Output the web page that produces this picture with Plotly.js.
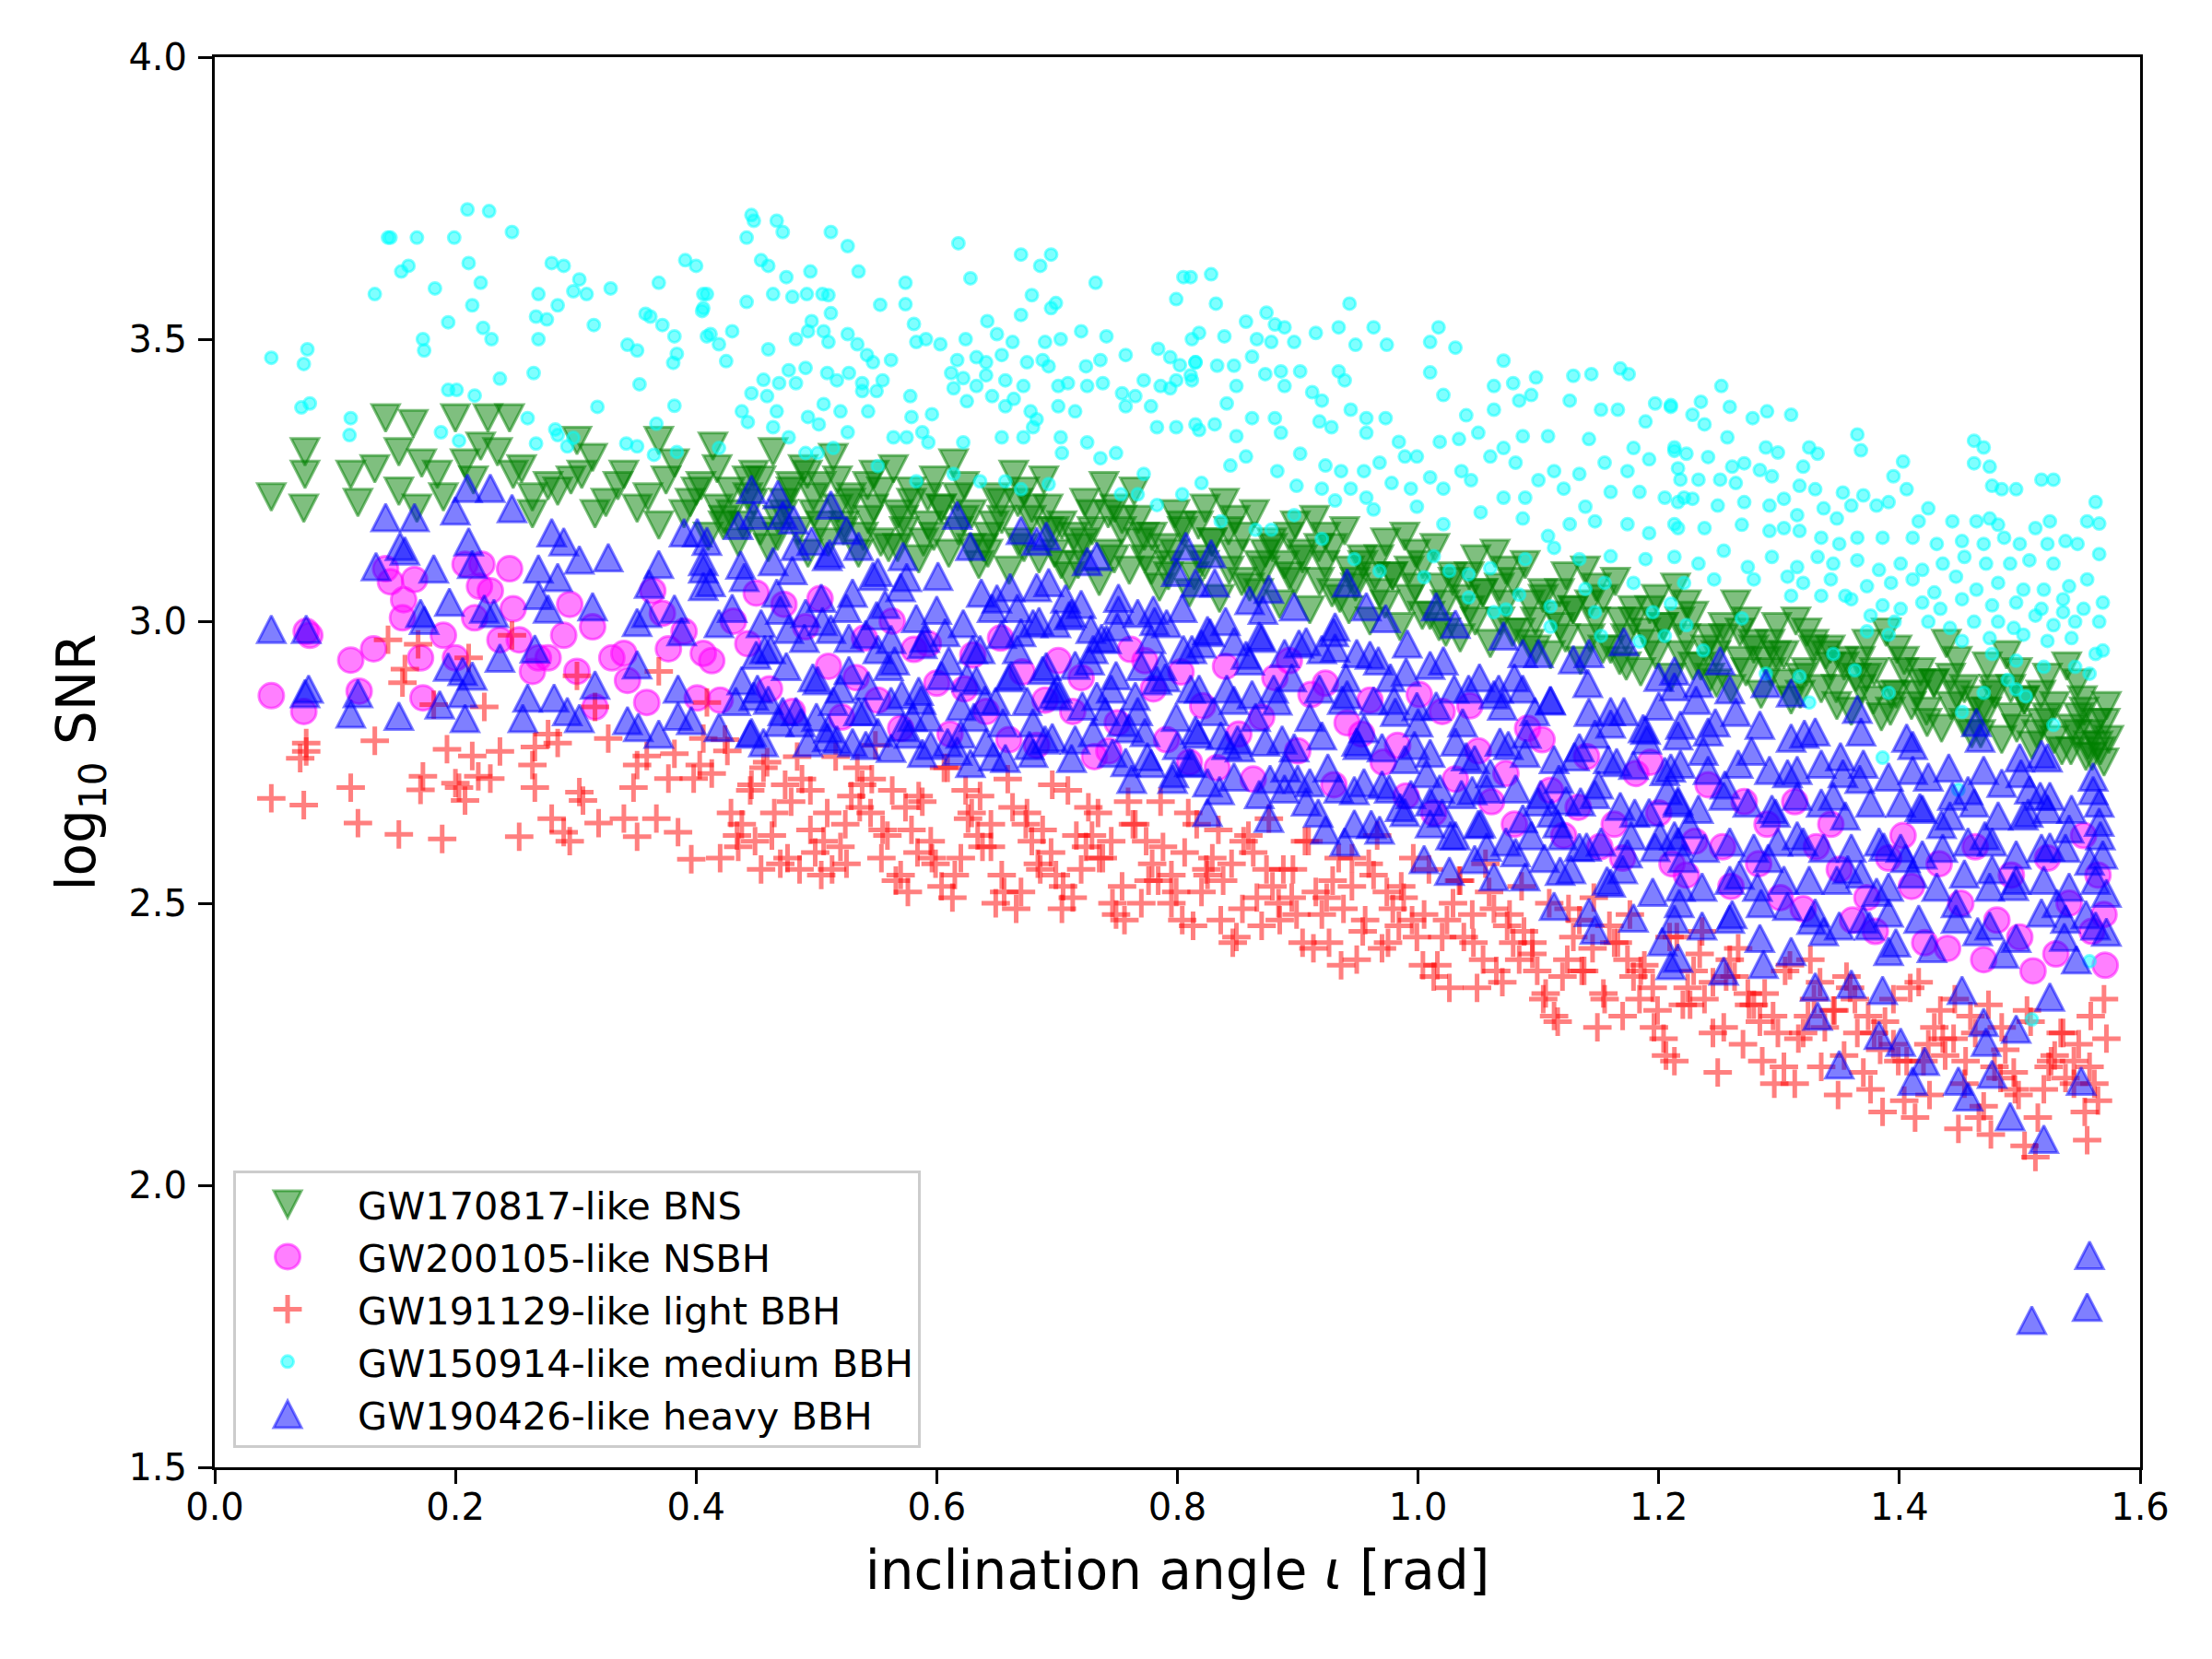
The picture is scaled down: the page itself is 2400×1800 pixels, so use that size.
<!DOCTYPE html>
<html><head><meta charset="utf-8">
<script src="https://cdn.plot.ly/plotly-3.0.1.min.js"></script>
<style>html,body{margin:0;padding:0;background:#fff;} #chart{width:2400px;height:1800px;}</style>
</head><body><div id="chart"></div>
<script>
// ---------------- data ----------------
const seriesNames = ['GW170817-like BNS','GW200105-like NSBH','GW191129-like light BBH','GW150914-like medium BBH','GW190426-like heavy BBH'];
const xTickValues = [0,0.2,0.4,0.6,0.8,1.0,1.2,1.4,1.6];
const xTickLabels = ['0.0','0.2','0.4','0.6','0.8','1.0','1.2','1.4','1.6'];
const yTickValues = [1.5,2.0,2.5,3.0,3.5,4.0];
const yTickLabels = ['1.5','2.0','2.5','3.0','3.5','4.0'];

// GW170817-like BNS
const bnsX = [
0.047,0.075,0.075,0.074,0.113,0.119,0.133,0.142,0.153,0.165,0.153,0.168,0.172,0.185,0.200,0.208,0.221,0.227,0.245,0.248,0.264,0.264,0.277,0.296,0.301,0.314,0.316,0.340,0.351,0.369,0.369,0.382,0.400,0.190,0.215,0.235,0.255,0.285,0.305,0.325,0.335,0.360,0.375,0.390,0.395,
0.410,0.418,0.404,0.423,0.414, 0.435,0.443,0.429,0.448,0.439, 0.460,0.468,0.454,0.473,0.464, 0.485,0.493,0.479,0.498,0.489,
0.510,0.518,0.504,0.523,0.514, 0.535,0.543,0.529,0.548,0.539, 0.560,0.568,0.554,0.573,0.564, 0.585,0.593,0.579,0.598,0.589,
0.610,0.618,0.604,0.623,0.614, 0.635,0.643,0.629,0.648,0.639, 0.660,0.668,0.654,0.673,0.664, 0.685,0.693,0.679,0.698,0.689,
0.710,0.718,0.704,0.723,0.714, 0.735,0.743,0.729,0.748,0.739, 0.760,0.768,0.754,0.773,0.764, 0.785,0.793,0.779,0.798,0.789,
0.810,0.818,0.804,0.823,0.814, 0.835,0.843,0.829,0.848,0.839, 0.860,0.868,0.854,0.873,0.864, 0.885,0.893,0.879,0.898,0.889,
0.910,0.918,0.904,0.923,0.914, 0.935,0.943,0.929,0.948,0.939, 0.960,0.968,0.954,0.973,0.964, 0.985,0.993,0.979,0.998,0.989,
1.010,1.018,1.004,1.023,1.014, 1.035,1.043,1.029,1.048,1.039, 1.060,1.068,1.054,1.073,1.064, 1.085,1.093,1.079,1.098,1.089,
1.110,1.118,1.104,1.123,1.114, 1.135,1.143,1.129,1.148,1.139, 1.160,1.168,1.154,1.173,1.164, 1.185,1.193,1.179,1.198,1.189,
1.210,1.218,1.204,1.223,1.214, 1.235,1.243,1.229,1.248,1.239, 1.260,1.268,1.254,1.273,1.264, 1.285,1.293,1.279,1.298,1.289,
1.310,1.318,1.304,1.323,1.314, 1.335,1.343,1.329,1.348,1.339, 1.360,1.368,1.354,1.373,1.364, 1.385,1.393,1.379,1.398,1.389,
1.410,1.418,1.404,1.423,1.414, 1.435,1.443,1.429,1.448,1.439, 1.460,1.468,1.454,1.473,1.464, 1.485,1.493,1.479,1.498,1.489,
1.510,1.518,1.504,1.523,1.514, 1.535,1.543,1.529,1.548,1.539, 1.555,1.559,1.549,1.557,1.552, 1.570,1.574,1.564,1.572,1.567,
0.4225,0.4285,0.4175, 0.4475,0.4535,0.4425, 0.4725,0.4785,0.4675, 0.4975,0.5035,0.4925, 0.5225,0.5285,0.5175, 0.5475,0.5535,0.5425,
0.5725,0.5785,0.5675, 0.5975,0.6035,0.5925, 0.6225,0.6285,0.6175, 0.6475,0.6535,0.6425, 0.6725,0.6785,0.6675, 0.6975,0.7035,0.6925,
0.7225,0.7285,0.7175, 0.7475,0.7535,0.7425, 0.7725,0.7785,0.7675, 0.7975,0.8035,0.7925, 0.8225,0.8285,0.8175, 0.8475,0.8535,0.8425,
0.8725,0.8785,0.8675, 0.8975,0.9035,0.8925, 0.9225,0.9285,0.9175, 0.9475,0.9535,0.9425, 0.9725,0.9785,0.9675, 0.9975,1.0035,0.9925,
1.0225,1.0285,1.0175, 1.0475,1.0535,1.0425, 1.0725,1.0785,1.0675, 1.0975,1.1035,1.0925, 1.1225,1.1285,1.1175, 1.1475,1.1535,1.1425,
1.1725,1.1785,1.1675, 1.1975,1.2035,1.1925, 1.2225,1.2285,1.2175, 1.2475,1.2535,1.2425, 1.2725,1.2785,1.2675, 1.2975,1.3035,1.2925,
1.3225,1.3285,1.3175, 1.3475,1.3535,1.3425, 1.3725,1.3785,1.3675, 1.3975,1.4035,1.3925, 1.4225,1.4285,1.4175, 1.4475,1.4535,1.4425,
1.4725,1.4785,1.4675, 1.4975,1.5035,1.4925, 1.5225,1.5285,1.5175, 1.5475,1.5535,1.5425, 1.5650,1.5710,1.5600
];
const bnsY = [
3.22,3.30,3.26,3.20,3.26,3.21,3.27,3.36,3.30,3.35,3.23,3.20,3.28,3.26,3.36,3.28,3.31,3.36,3.36,3.26,3.22,3.19,3.24,3.25,3.32,3.29,3.19,3.26,3.20,3.32,3.17,3.28,3.23,3.22,3.25,3.30,3.27,3.23,3.26,3.21,3.24,3.22,3.25,3.19,3.21,
3.15,3.20,3.24,3.18,3.31, 3.14,3.22,3.19,3.26,3.17, 3.13,3.18,3.25,3.21,3.30, 3.16,3.12,3.23,3.19,3.27,
3.14,3.20,3.24,3.17,3.29, 3.12,3.18,3.22,3.26,3.15, 3.13,3.19,3.23,3.16,3.27, 3.11,3.17,3.21,3.25,3.14,
3.12,3.16,3.20,3.24,3.28, 3.10,3.15,3.19,3.22,3.13, 3.09,3.14,3.18,3.23,3.26, 3.11,3.16,3.20,3.12,3.25,
3.08,3.13,3.17,3.21,3.15, 3.07,3.12,3.16,3.20,3.24, 3.09,3.14,3.18,3.11,3.23, 3.06,3.10,3.15,3.19,3.13,
3.05,3.11,3.16,3.20,3.08, 3.04,3.09,3.14,3.18,3.21, 3.06,3.10,3.15,3.12,3.19, 3.03,3.08,3.13,3.17,3.10,
3.02,3.07,3.11,3.15,3.18, 3.04,3.09,3.13,3.06,3.16, 3.00,3.05,3.10,3.14,3.08, 2.99,3.04,3.08,3.12,3.15,
3.01,3.06,3.10,2.98,3.13, 2.97,3.02,3.07,3.11,3.04, 2.96,3.00,3.05,3.09,3.12, 2.98,3.03,3.07,2.95,3.10,
2.94,2.99,3.04,3.08,3.01, 2.93,2.97,3.02,3.06,3.09, 2.95,3.00,3.04,2.92,3.07, 2.91,2.96,3.00,3.04,2.98,
2.90,2.94,2.99,3.03,3.06, 2.92,2.97,3.01,2.89,2.95, 2.88,2.93,2.97,3.00,3.03, 2.87,2.91,2.95,2.99,2.93,
2.86,2.90,2.94,2.98,3.00, 2.88,2.92,2.96,2.85,2.94, 2.84,2.88,2.92,2.96,2.90, 2.83,2.87,2.91,2.95,2.98,
2.85,2.89,2.93,2.82,2.87, 2.81,2.85,2.89,2.93,2.96, 2.80,2.84,2.88,2.92,2.86, 2.79,2.83,2.87,2.91,2.94,
2.78,2.82,2.86,2.90,2.80, 2.77,2.81,2.85,2.89,2.92, 2.76,2.80,2.83,2.78,2.86, 2.75,2.79,2.82,2.85,2.77,
3.17,3.23,3.27, 3.21,3.16,3.25, 3.19,3.24,3.15, 3.22,3.17,3.26, 3.16,3.21,3.25, 3.20,3.14,3.24,
3.18,3.23,3.13, 3.15,3.20,3.22, 3.18,3.13,3.22, 3.17,3.21,3.12, 3.13,3.18,3.21, 3.16,3.10,3.20,
3.14,3.19,3.10, 3.11,3.16,3.19, 3.15,3.09,3.18, 3.12,3.17,3.08, 3.10,3.14,3.17, 3.12,3.07,3.16,
3.09,3.14,3.05, 3.07,3.12,3.15, 3.10,3.05,3.13, 3.07,3.11,3.02, 3.03,3.08,3.11, 3.06,3.01,3.09,
3.03,3.08,2.99, 3.00,3.05,3.08, 3.03,2.98,3.06, 3.00,3.05,2.96, 2.97,3.02,3.05, 3.00,2.95,3.03,
2.97,3.02,2.93, 2.94,2.99,3.02, 2.97,2.92,3.00, 2.94,2.99,2.90, 2.91,2.96,2.98, 2.94,2.89,2.96,
2.91,2.95,2.87, 2.88,2.93,2.95, 2.90,2.86,2.93, 2.87,2.91,2.84, 2.84,2.89,2.91, 2.87,2.82,2.90,
2.84,2.88,2.80, 2.81,2.86,2.88, 2.83,2.79,2.87, 2.80,2.84,2.77, 2.78,2.82,2.76
];

// GW200105-like NSBH
const nsbhX = [
0.047,0.074,0.076,0.079,0.113,0.120,0.132,0.142,0.146,0.166,0.157,0.156,0.171,0.173,0.190,0.200,0.208,0.222,0.245,0.220,0.229,0.216,0.248,0.237,0.253,0.269,0.264,0.277,0.290,0.295,0.314,0.301,0.316,0.330,0.340,0.343,0.364,0.372,0.377,0.390,0.406,0.401,0.359,
0.420,0.431,0.413, 0.450,0.461,0.443, 0.480,0.491,0.473, 0.510,0.521,0.503, 0.540,0.551,0.533, 0.570,0.581,0.563,
0.600,0.611,0.593, 0.630,0.641,0.623, 0.660,0.671,0.653, 0.690,0.701,0.683, 0.720,0.731,0.713, 0.750,0.761,0.743,
0.780,0.791,0.773, 0.810,0.821,0.803, 0.840,0.851,0.833, 0.870,0.881,0.863, 0.900,0.911,0.893, 0.930,0.941,0.923,
0.960,0.971,0.953, 0.990,1.001,0.983, 1.020,1.031,1.013, 1.050,1.061,1.043, 1.080,1.091,1.073, 1.110,1.121,1.103,
1.140,1.151,1.133, 1.170,1.181,1.163, 1.200,1.211,1.193, 1.230,1.241,1.223, 1.260,1.271,1.253, 1.290,1.301,1.283,
1.320,1.331,1.313, 1.350,1.361,1.343, 1.380,1.391,1.373, 1.410,1.421,1.403, 1.440,1.451,1.433, 1.470,1.481,1.463,
1.500,1.511,1.493, 1.530,1.541,1.523, 1.560,1.571,1.553, 1.565,1.570
];
const nsbhY = [
2.868,2.84,2.982,2.975,2.931,2.876,2.951,3.093,3.07,3.074,3.038,3.006,2.935,2.864,2.975,2.935,3.101,3.101,3.093,3.062,3.054,3.006,3.022,2.967,2.967,2.935,2.911,2.935,2.975,3.03,2.99,2.911,2.848,2.935,2.943,2.895,3.054,3.014,2.951,2.982,2.943,2.864,2.856,
2.86,3.00,2.93, 3.05,2.88,2.96, 2.84,2.99,3.03, 2.92,2.83,3.04, 2.97,2.86,2.90, 2.81,2.95,3.00,
2.89,2.80,2.96, 2.94,2.84,2.88, 2.79,2.91,2.97, 2.86,2.93,2.78, 2.90,2.76,2.84, 2.82,2.95,2.77,
2.88,2.79,2.93, 2.75,2.85,2.91, 2.92,2.80,2.74, 2.83,2.90,2.72, 2.77,2.87,2.93, 2.71,2.82,2.89,
2.86,2.75,2.80, 2.69,2.87,2.78, 2.84,2.72,2.66, 2.77,2.68,2.85, 2.64,2.81,2.73, 2.70,2.62,2.79,
2.76,2.60,2.67, 2.58,2.73,2.64, 2.66,2.57,2.75, 2.61,2.71,2.55, 2.53,2.68,2.60, 2.64,2.51,2.57,
2.49,2.60,2.68, 2.56,2.47,2.64, 2.45,2.58,2.51, 2.53,2.43,2.62, 2.42,2.50,2.57, 2.40,2.47,2.60,
2.44,2.38,2.55, 2.41,2.50,2.58, 2.45,2.39,2.62, 2.55,2.48
];

// GW191129-like light BBH
const lightX = [
0.047,0.074,0.076,0.071,0.076,0.113,0.119,0.133,0.144,0.153,0.158,0.156,0.169,0.173,0.171,0.182,0.189,0.193,0.200,0.203,0.208,0.211,0.214,0.219,0.224,0.229,0.237,0.247,0.253,0.264,0.266,0.266,0.277,0.280,0.285,0.290,0.295,0.301,0.303,0.306,0.316,0.319,0.327,0.340,0.348,0.351,0.351,0.359,0.367,0.369,0.377,0.382,0.385,0.396,0.398,0.406,0.403,0.409,
0.420,0.429,0.413,0.434,0.424, 0.445,0.454,0.438,0.459,0.449, 0.470,0.479,0.463,0.484,0.474, 0.495,0.504,0.488,0.509,0.499,
0.520,0.529,0.513,0.534,0.524, 0.545,0.554,0.538,0.559,0.549, 0.570,0.579,0.563,0.584,0.574, 0.595,0.604,0.588,0.609,0.599,
0.620,0.629,0.613,0.634,0.624, 0.645,0.654,0.638,0.659,0.649, 0.670,0.679,0.663,0.684,0.674, 0.695,0.704,0.688,0.709,0.699,
0.720,0.729,0.713,0.734,0.724, 0.745,0.754,0.738,0.759,0.749, 0.770,0.779,0.763,0.784,0.774, 0.795,0.804,0.788,0.809,0.799,
0.820,0.829,0.813,0.834,0.824, 0.845,0.854,0.838,0.859,0.849, 0.870,0.879,0.863,0.884,0.874, 0.895,0.904,0.888,0.909,0.899,
0.920,0.929,0.913,0.934,0.924, 0.945,0.954,0.938,0.959,0.949, 0.970,0.979,0.963,0.984,0.974, 0.995,1.004,0.988,1.009,0.999,
1.020,1.029,1.013,1.034,1.024, 1.045,1.054,1.038,1.059,1.049, 1.070,1.079,1.063,1.084,1.074, 1.095,1.104,1.088,1.109,1.099,
1.120,1.129,1.113,1.134,1.124, 1.145,1.154,1.138,1.159,1.149, 1.170,1.179,1.163,1.184,1.174, 1.195,1.204,1.188,1.209,1.199,
1.220,1.229,1.213,1.234,1.224, 1.245,1.254,1.238,1.259,1.249, 1.270,1.279,1.263,1.284,1.274, 1.295,1.304,1.288,1.309,1.299,
1.320,1.329,1.313,1.334,1.324, 1.345,1.354,1.338,1.359,1.349, 1.370,1.379,1.363,1.384,1.374, 1.395,1.404,1.388,1.409,1.399,
1.420,1.429,1.413,1.434,1.424, 1.445,1.454,1.438,1.459,1.449, 1.470,1.479,1.463,1.484,1.474, 1.495,1.504,1.488,1.509,1.499,
1.520,1.529,1.513,1.534,1.524, 1.545,1.554,1.538,1.559,1.549, 1.565,1.572,1.558,1.570,1.562,
0.435,0.446,0.426, 0.465,0.476,0.456, 0.495,0.506,0.486, 0.525,0.536,0.516, 0.555,0.566,0.546, 0.585,0.596,0.576,
0.615,0.626,0.606, 0.645,0.656,0.636, 0.675,0.686,0.666, 0.705,0.716,0.696, 0.735,0.746,0.726, 0.765,0.776,0.756,
0.795,0.806,0.786, 0.825,0.836,0.816, 0.855,0.866,0.846, 0.885,0.896,0.876, 0.915,0.926,0.906, 0.945,0.956,0.936,
0.975,0.986,0.966, 1.005,1.016,0.996, 1.035,1.046,1.026, 1.065,1.076,1.056, 1.095,1.106,1.086, 1.125,1.136,1.116,
1.155,1.166,1.146, 1.185,1.196,1.176, 1.215,1.226,1.206, 1.245,1.256,1.236, 1.275,1.286,1.266, 1.305,1.316,1.296,
1.335,1.346,1.326, 1.365,1.376,1.356, 1.395,1.406,1.386, 1.425,1.436,1.416, 1.455,1.466,1.446, 1.485,1.496,1.476,
1.515,1.526,1.506, 1.545,1.556,1.536
];
const lightY = [
2.686,2.674,2.784,2.757,2.769,2.705,2.642,2.788,2.967,2.622,2.915,2.891,2.959,2.725,2.701,2.852,2.614,2.773,2.713,2.705,2.682,2.935,2.761,2.725,2.848,2.721,2.769,2.975,2.618,2.745,2.705,2.777,2.80,2.65,2.784,2.626,2.61,2.903,2.697,2.682,2.848,2.642,2.792,2.65,2.705,2.745,2.618,2.761,2.65,2.911,2.721,2.765,2.626,2.578,2.721,2.792,2.745,2.856,
2.58,2.66,2.73,2.62,2.79, 2.70,2.56,2.64,2.75,2.61, 2.57,2.68,2.62,2.76,2.71, 2.63,2.55,2.72,2.66,2.59,
2.60,2.69,2.56,2.74,2.64, 2.66,2.58,2.71,2.62,2.78, 2.55,2.63,2.70,2.59,2.67, 2.61,2.53,2.68,2.74,2.57,
2.58,2.66,2.51,2.62,2.70, 2.64,2.55,2.60,2.72,2.50, 2.52,2.61,2.67,2.57,2.64, 2.59,2.49,2.63,2.70,2.55,
2.56,2.62,2.51,2.66,2.60, 2.61,2.53,2.58,2.68,2.48, 2.50,2.57,2.64,2.54,2.61, 2.55,2.47,2.60,2.66,2.52,
2.52,2.58,2.46,2.63,2.56, 2.57,2.49,2.54,2.62,2.44, 2.46,2.53,2.59,2.50,2.56, 2.51,2.43,2.56,2.61,2.48,
2.48,2.54,2.42,2.58,2.51, 2.53,2.45,2.49,2.57,2.40, 2.42,2.49,2.55,2.46,2.52, 2.47,2.39,2.51,2.56,2.44,
2.44,2.50,2.37,2.54,2.47, 2.48,2.40,2.44,2.52,2.35, 2.36,2.43,2.49,2.40,2.46, 2.41,2.33,2.45,2.50,2.38,
2.37,2.44,2.30,2.47,2.40, 2.42,2.34,2.38,2.46,2.28, 2.30,2.37,2.43,2.33,2.40, 2.35,2.26,2.39,2.44,2.31,
2.32,2.38,2.22,2.41,2.35, 2.36,2.28,2.33,2.40,2.20, 2.25,2.32,2.37,2.29,2.34, 2.30,2.21,2.34,2.39,2.27,
2.27,2.33,2.18,2.36,2.30, 2.31,2.23,2.28,2.35,2.16, 2.20,2.27,2.33,2.24,2.30, 2.25,2.15,2.29,2.35,2.22,
2.22,2.28,2.12,2.31,2.25, 2.26,2.18,2.23,2.30,2.10, 2.14,2.21,2.27,2.19,2.32, 2.20,2.07,2.24,2.29,2.16,
2.17,2.23,2.05,2.27,2.21, 2.22,2.13,2.19,2.30,2.25, 2.15,2.26,2.21,2.33,2.18,
2.60,2.71,2.77, 2.66,2.58,2.74, 2.70,2.61,2.56, 2.57,2.67,2.76, 2.63,2.54,2.72, 2.69,2.58,2.52,
2.55,2.65,2.74, 2.60,2.52,2.69, 2.66,2.56,2.49, 2.53,2.62,2.71, 2.58,2.50,2.67, 2.64,2.54,2.47,
2.50,2.59,2.68, 2.55,2.47,2.64, 2.61,2.51,2.43, 2.47,2.56,2.65, 2.52,2.43,2.61, 2.58,2.47,2.39,
2.43,2.53,2.62, 2.48,2.39,2.58, 2.54,2.43,2.35, 2.38,2.48,2.57, 2.43,2.34,2.53, 2.49,2.38,2.29,
2.33,2.43,2.51, 2.38,2.28,2.48, 2.44,2.32,2.23, 2.27,2.37,2.45, 2.32,2.22,2.42, 2.38,2.26,2.18,
2.21,2.31,2.40, 2.27,2.17,2.37, 2.33,2.22,2.13, 2.16,2.26,2.36, 2.22,2.12,2.33, 2.28,2.17,2.09,
2.12,2.22,2.31, 2.18,2.08,2.27
];

// GW150914-like medium BBH
const mediumX = [
0.047,0.077,0.074,0.072,0.079,0.113,0.112,0.133,0.144,0.146,0.155,0.161,0.168,0.173,0.174,0.183,0.194,0.194,0.201,0.199,0.210,0.211,0.214,0.216,0.221,0.223,0.230,0.228,0.237,0.247,0.260,0.265,0.267,0.276,0.269,0.269,0.280,0.290,0.283,0.285,0.285,0.298,0.309,0.303,0.293,0.298,0.315,0.318,0.329,0.343,0.351,0.342,0.351,0.353,0.358,0.362,0.369,0.372,0.382,0.384,0.381,0.382,0.367,0.391,0.400,0.406,0.405,0.409,0.267,0.188,0.203,0.365,0.384,
0.446,0.448,0.442,0.467,0.472,0.512,0.526,0.618,0.670,0.686,0.695,0.732,0.805,0.628,0.535,0.454,0.460,0.495,0.475,0.464,
0.480,0.492,0.505,0.510,0.442,0.409,0.406,0.553,0.574,0.574,0.679,0.699,0.695,0.670,0.799,0.512,0.496,0.493,0.506,0.430,
0.412,0.419,0.425,0.460,0.483,0.510,0.526,0.534,0.542,0.547,0.562,0.581,0.583,0.591,0.603,0.624,0.642,0.650,0.663,0.690,
0.703,0.720,0.741,0.757,0.784,0.812,0.794,0.802,0.815,0.617,0.633,0.641,0.654,0.675,0.688,0.693,0.724,0.736,0.612,0.622,
0.633,0.641,0.657,0.672,0.701,0.709,0.725,0.738,0.754,0.772,0.786,0.799,0.811,0.477,0.491,0.509,0.517,0.527,0.538,0.555,
0.446,0.456,0.469,0.483,0.438,0.443,0.459,0.467,0.493,0.502,0.506,0.520,0.538,0.543,0.550,0.578,0.579,0.596,0.614,0.625,
0.646,0.657,0.664,0.678,0.683,0.701,0.715,0.757,0.765,0.778,0.794,0.783,0.799,0.815,0.772,0.749,0.736,0.725,0.703,0.704,
0.680,0.672,0.654,0.622,0.593,0.588,0.575,0.564,0.526,0.514,0.501,0.491,0.477,0.464,0.419,0.753,0.767,0.783,0.804,0.693,
0.670,0.657,0.636,0.614,0.583,0.551,
0.828,0.832,0.943,0.811,0.857,0.874,0.881,0.889,0.818,0.839,0.866,0.878,0.897,0.915,0.934,0.963,0.948,0.974,1.017,1.010,
1.031,0.815,0.833,0.847,0.862,0.873,0.886,0.902,0.812,0.849,0.889,0.934,0.939,1.071,1.010,1.063,1.079,1.098,1.129,1.144,
1.168,1.175,0.841,0.862,0.881,0.912,0.920,0.918,0.944,0.957,0.973,1.021,1.040,1.063,1.084,1.094,1.126,1.152,1.166,1.189,
1.197,1.210,0.818,0.831,0.849,0.886,0.928,0.957,0.984,0.999,1.018,1.034,1.050,1.071,1.087,1.108,1.142,1.179,1.213,0.844,
0.857,0.883,0.902,0.923,0.936,0.955,0.968,0.989,1.010,1.036,1.060,1.081,1.100,1.113,1.134,1.155,1.174,1.192,1.216,0.820,
0.899,0.920,0.944,0.957,0.978,0.994,1.021,1.044,1.071,1.089,1.121,1.139,1.160,1.184,1.205,1.221,0.897,0.931,0.963,0.999,
1.021,1.052,1.087,1.108,1.126,1.147,1.174,1.192,1.213,1.089,1.113,1.134,1.160,1.189,1.155,1.139,1.179,1.060,1.042,1.084,
1.110,1.147,1.195,1.210,0.836,0.865,0.878,0.920,0.947,0.968,1.005,1.026,1.042,1.063,1.073,1.110,1.152,1.184,1.205,1.013,
1.252,1.235,1.259,1.210,1.228,1.238,1.278,1.290,1.310,1.365,1.368,1.462,1.470,1.462,1.475,1.403,1.395,1.213,1.223,1.241,
1.257,1.261,1.289,1.299,1.325,1.332,1.271,1.284,1.294,1.320,1.218,1.233,1.251,1.264,1.317,1.330,1.353,1.370,1.406,1.477,
1.485,1.497,1.518,1.528,1.563,1.216,1.228,1.249,1.271,1.292,1.304,1.315,1.337,1.348,1.360,1.381,1.391,1.424,1.416,1.444,
1.464,1.475,1.482,1.513,1.525,1.556,1.566,1.216,1.238,1.269,1.292,1.304,1.317,1.335,1.350,1.365,1.386,1.411,1.431,1.452,
1.470,1.487,1.500,1.523,1.538,1.548,1.566,1.213,1.233,1.254,1.274,1.294,1.315,1.332,1.345,1.365,1.383,1.401,1.419,1.436,
1.454,1.472,1.492,1.508,1.528,1.541,1.556,1.221,1.246,1.279,1.307,1.320,1.343,1.355,1.373,1.393,1.411,1.429,1.447,1.464,
1.482,1.503,1.520,1.536,1.310,1.335,1.360,1.386,1.401,1.419,1.434,1.452,1.477,1.497,1.518,1.536,1.553,1.569,1.376,1.396,
1.424,1.442,1.462,1.482,1.495,1.513,1.528,1.546,1.566,1.373,1.391,1.452,1.475,1.503,1.523,1.543,1.563,1.569,1.477,1.497,
1.520,1.546,1.558,1.490,1.528,1.452,1.470,1.497,1.505,1.325,1.391,1.363,1.345,1.317,1.289,1.237,1.223,1.269,1.386,1.449,
1.558,1.510
];
const mediumY = [
3.467,3.482,3.456,3.379,3.386,3.36,3.33,3.58,3.68,3.68,3.62,3.63,3.68,3.50,3.48,3.59,3.53,3.41,3.41,3.68,3.73,3.635,3.56,3.40,3.60,3.52,3.50,3.727,3.43,3.69,3.36,3.44,3.54,3.535,3.50,3.58,3.635,3.63,3.34,3.33,3.56,3.585,3.58,3.606,3.31,3.325,3.525,3.38,3.59,3.49,3.48,3.315,3.31,3.42,3.545,3.54,3.60,3.525,3.505,3.474,3.458,3.382,3.35,3.64,3.63,3.58,3.55,3.505,3.315,3.335,3.32,3.295,3.30,
3.72,3.71,3.68,3.71,3.69,3.69,3.665,3.67,3.65,3.63,3.65,3.60,3.61,3.608,3.62,3.64,3.63,3.62,3.61,3.58,
3.575,3.58,3.58,3.578,3.566,3.58,3.555,3.561,3.562,3.60,3.578,3.564,3.555,3.543,3.571,3.546,3.532,3.514,3.514,3.514,
3.509,3.491,3.461,3.482,3.50,3.495,3.509,3.491,3.472,3.459,3.463,3.527,3.495,3.50,3.491,3.50,3.532,3.509,3.495,3.495,
3.50,3.514,3.505,3.472,3.483,3.50,3.468,3.454,3.459,3.463,3.468,3.459,3.472,3.459,3.463,3.452,3.452,3.463,3.44,3.431,
3.417,3.436,3.427,3.417,3.417,3.422,3.417,3.422,3.404,3.427,3.417,3.427,3.436,3.445,3.449,3.44,3.427,3.44,3.422,3.427,
3.404,3.428,3.422,3.422,3.372,3.353,3.399,3.372,3.362,3.349,3.385,3.372,3.408,3.372,3.408,3.399,3.362,3.367,3.413,3.39,
3.399,3.381,3.394,3.372,3.358,3.381,3.372,3.381,3.399,3.381,3.413,3.344,3.344,3.349,3.261,3.298,3.289,3.317,3.326,3.298,
3.344,3.326,3.326,3.317,3.317,3.335,3.326,3.326,3.335,3.307,3.298,3.298,3.326,3.344,3.307,3.225,3.225,3.206,3.225,3.243,
3.234,3.248,3.248,3.261,3.248,3.275,
3.615,3.563,3.563,3.61,3.531,3.547,3.526,3.521,3.511,3.505,3.50,3.495,3.495,3.511,3.521,3.521,3.49,3.49,3.521,3.495,
3.485,3.459,3.453,3.453,3.469,3.438,3.443,3.443,3.427,3.417,3.417,3.443,3.427,3.462,3.441,3.417,3.422,3.432,3.435,3.438,
3.448,3.438,3.386,3.36,3.36,3.406,3.391,3.354,3.375,3.36,3.36,3.401,3.365,3.375,3.391,3.401,3.391,3.375,3.375,3.354,
3.386,3.38,3.339,3.349,3.328,3.334,3.344,3.334,3.318,3.292,3.318,3.323,3.334,3.307,3.328,3.328,3.323,3.307,3.302,3.276,
3.292,3.266,3.297,3.276,3.266,3.266,3.281,3.292,3.255,3.266,3.292,3.281,3.25,3.266,3.261,3.281,3.266,3.287,3.271,3.245,
3.24,3.235,3.235,3.219,3.245,3.235,3.235,3.25,3.219,3.219,3.235,3.203,3.229,3.229,3.219,3.219,3.188,3.214,3.198,3.203,
3.172,3.193,3.182,3.151,3.172,3.177,3.172,3.156,3.172,3.11,3.13,3.11,3.115,3.11,3.068,3.057,3.068,3.094,3.083,3.047,
3.026,3.016,3.016,3.031,3.177,3.162,3.162,3.146,3.11,3.089,3.078,3.089,3.042,3.016,3.021,2.99,2.974,2.964,2.974,3.115,
3.417,3.389,3.38,3.383,3.366,3.349,3.36,3.372,3.366,3.331,3.303,3.32,3.308,3.28,3.274,3.283,3.257,3.308,3.297,3.291,
3.326,3.274,3.308,3.299,3.308,3.297,3.28,3.268,3.257,3.274,3.251,3.251,3.251,3.245,3.24,3.234,3.228,3.223,3.234,3.24,
3.234,3.234,3.251,3.251,3.211,3.211,3.217,3.205,3.211,3.205,3.217,3.188,3.2,3.182,3.205,3.205,3.211,3.2,3.177,3.177,
3.177,3.182,3.171,3.165,3.177,3.177,3.173,3.165,3.165,3.171,3.16,3.165,3.16,3.148,3.137,3.148,3.148,3.148,3.137,3.142,
3.137,3.148,3.137,3.137,3.142,3.137,3.119,3.114,3.102,3.125,3.096,3.114,3.096,3.114,3.102,3.108,3.091,3.102,3.091,3.102,
3.114,3.102,3.102,3.108,3.102,3.062,3.074,3.068,3.074,3.074,3.079,3.068,3.074,3.045,3.062,3.068,3.074,3.051,3.079,3.056,
3.068,3.056,3.056,3.039,3.045,3.045,3.039,3.028,3.022,3.033,3.022,3.039,3.028,3.033,3.022,3.016,3.022,3.033,3.01,2.999,
2.999,2.988,2.999,2.999,2.988,3.01,2.993,2.999,2.999,2.982,2.976,2.965,2.97,2.976,2.965,2.97,2.942,2.948,2.942,2.93,
2.919,2.919,2.907,2.896,2.816,2.839,2.873,2.879,2.867,2.856,2.873,2.913,2.942,2.902,2.907,2.948,2.993,3.005,2.758,2.701,
2.397,2.294
];

// GW190426-like heavy BBH
const heavyX = [
0.047,0.076,0.075,0.078,0.113,0.119,0.142,0.166,0.134,0.154,0.158,0.182,0.195,0.171,0.174,0.200,0.211,0.214,0.229,0.210,
0.247,0.224,0.232,0.237,0.194,0.206,0.214,0.153,0.187,0.208,0.206,0.280,0.290,0.303,0.327,0.269,0.285,0.269,0.277,0.314,
0.266,0.260,0.256,0.282,0.293,0.303,0.316,0.369,0.361,0.359,0.351,0.351,0.343,0.352,0.369,0.390,0.401,0.406,0.406,0.382,
0.388,0.385,0.396,0.385,
0.446,0.468,0.512,0.448,0.472,0.435,0.409,0.406,0.412,0.430,0.419,0.440,0.464,0.483,0.496,0.509,0.525,0.535,0.551,0.572,
0.575,0.617,0.628,0.670,0.683,0.691,0.733,0.725,0.807,0.799,0.454,0.462,0.477,0.491,0.504,0.512,0.525,0.541,0.551,0.562,
0.448,0.433,0.419,0.446,0.469,0.483,0.501,0.514,0.527,0.543,0.562,0.583,0.588,0.604,0.622,0.636,0.646,0.654,0.667,0.683,
0.693,0.680,0.699,0.712,0.728,0.741,0.751,0.767,0.778,0.791,0.804,0.812,0.585,0.593,0.572,0.551,0.530,0.509,0.493,0.620,
0.633,0.649,0.662,0.675,0.688,0.701,0.715,0.733,0.749,0.765,0.783,0.799,0.609,0.628,0.641,0.657,0.680,0.696,0.712,0.730,
0.746,0.762,0.778,0.796,0.812,0.773,0.754,0.562,0.588,0.456,0.472,0.438,
0.828,0.815,0.831,0.860,0.876,0.897,0.941,0.957,0.973,1.015,1.031,0.825,0.847,0.868,0.889,0.907,0.931,0.949,1.071,1.087,
1.100,1.129,1.142,1.171,1.200,1.213,1.010,1.042,1.063,1.087,1.110,1.142,1.160,1.189,1.216,0.818,0.841,0.862,0.883,0.918,
0.941,0.963,0.981,0.999,0.815,0.836,0.852,0.873,0.897,0.920,0.949,0.970,0.989,1.010,1.031,1.047,1.068,1.089,1.113,1.134,
1.158,1.179,1.205,0.825,0.847,0.868,0.889,0.910,0.934,0.955,0.976,0.994,1.018,1.036,1.057,1.081,1.102,1.123,1.147,1.168,
1.192,1.216,0.825,0.876,0.923,0.947,0.968,0.989,1.010,1.031,1.052,1.073,1.094,1.116,1.134,1.152,1.174,1.197,1.213,0.939,
1.005,1.047,1.063,1.089,1.113,1.142,1.147,1.179,1.203,1.210,1.118,1.160,1.026,
1.213,1.233,1.251,1.259,1.289,1.310,1.365,1.218,1.241,1.264,1.284,1.310,1.330,1.368,1.406,1.464,1.467,1.500,1.518,1.523,
1.218,1.241,1.266,1.292,1.315,1.335,1.353,1.370,1.391,1.411,1.424,1.444,1.470,1.485,1.508,1.525,1.543,1.561,1.566,1.566,
1.216,1.233,1.254,1.274,1.294,1.315,1.335,1.355,1.376,1.401,1.419,1.442,1.462,1.482,1.503,1.523,1.541,
1.216,1.238,1.259,1.279,1.299,1.320,1.337,1.360,1.383,1.401,1.419,1.436,1.457,1.477,1.497,1.518,1.538,1.558,1.569,
1.218,1.236,1.259,1.282,1.304,1.325,1.348,1.368,1.391,1.411,1.431,1.454,1.475,1.497,1.520,1.541,1.563,1.572,
1.213,1.236,1.259,1.284,1.307,1.330,1.350,1.370,1.391,1.416,1.447,1.475,1.497,1.518,1.538,1.563,1.572,
1.216,1.254,1.287,1.310,1.330,1.360,1.386,1.391,1.452,1.470,1.472,1.497,1.525,1.551,
1.332,1.350,1.383,1.401,1.411,1.421,1.449,1.457,1.477,1.492,1.520,1.558,1.556,1.510,
0.445,0.457,0.437,0.451, 0.475,0.487,0.467,0.481, 0.505,0.517,0.497,0.511, 0.535,0.547,0.527,0.541, 0.565,0.577,0.557,0.571,
0.595,0.607,0.587,0.601, 0.625,0.637,0.617,0.631, 0.655,0.667,0.647,0.661, 0.685,0.697,0.677,0.691, 0.715,0.727,0.707,0.721,
0.745,0.757,0.737,0.751, 0.775,0.787,0.767,0.781, 0.805,0.817,0.797,0.811, 0.835,0.847,0.827,0.841, 0.865,0.877,0.857,0.871,
0.895,0.907,0.887,0.901, 0.925,0.937,0.917,0.931, 0.955,0.967,0.947,0.961, 0.985,0.997,0.977,0.991, 1.015,1.027,1.007,1.021,
1.045,1.057,1.037,1.051, 1.075,1.087,1.067,1.081, 1.105,1.117,1.097,1.111, 1.135,1.147,1.127,1.141, 1.165,1.177,1.157,1.171,
1.195,1.207,1.187,1.201, 1.225,1.237,1.217,1.231, 1.255,1.267,1.247,1.261, 1.285,1.297,1.277,1.291, 1.315,1.327,1.307,1.321,
1.345,1.357,1.337,1.351, 1.375,1.387,1.367,1.381, 1.405,1.417,1.397,1.411, 1.435,1.447,1.427,1.441, 1.465,1.477,1.457,1.471,
1.495,1.507,1.487,1.501, 1.525,1.537,1.517,1.531, 1.555,1.567,1.547,1.561,
0.460,0.470,0.450, 0.490,0.500,0.480, 0.520,0.530,0.510, 0.550,0.560,0.540, 0.580,0.590,0.570, 0.610,0.620,0.600,
0.640,0.650,0.630, 0.670,0.680,0.660, 0.700,0.710,0.690, 0.730,0.740,0.720, 0.760,0.770,0.750, 0.790,0.800,0.780,
0.820,0.830,0.810, 0.850,0.860,0.840, 0.880,0.890,0.870, 0.910,0.920,0.900, 0.940,0.950,0.930, 0.970,0.980,0.960,
1.000,1.010,0.990, 1.030,1.040,1.020, 1.060,1.070,1.050, 1.090,1.100,1.080, 1.120,1.130,1.110, 1.150,1.160,1.140,
1.180,1.190,1.170, 1.210,1.220,1.200
];
const heavyY = [
2.986,2.986,2.872,2.88,2.836,2.872,3.184,3.184,3.097,3.133,3.125,3.093,3.034,3.014,3.002,3.196,3.141,3.101,3.236,3.236,
3.20,3.022,3.014,2.935,2.919,2.911,2.903,2.832,2.852,2.828,2.872,3.157,3.141,3.109,3.113,3.093,3.078,3.046,3.022,3.026,
2.951,2.864,2.828,2.864,2.84,2.828,2.887,3.101,3.066,3.014,2.998,2.923,2.824,2.812,2.80,3.157,3.157,3.093,3.062,3.022,
2.982,2.88,2.824,2.832,
3.234,3.225,3.206,3.188,3.188,3.17,3.142,3.106,3.069,3.023,2.996,3.078,3.106,3.133,3.142,3.115,3.161,3.133,3.087,3.115,
3.078,3.188,3.133,3.161,3.142,3.151,3.115,3.106,3.133,3.087,2.996,2.95,2.986,3.014,3.041,2.986,3.023,2.977,2.95,2.968,
2.867,2.858,2.812,2.803,2.821,2.84,2.895,2.858,2.913,2.886,2.858,3.005,2.959,2.904,2.996,2.95,3.023,2.977,3.023,3.06,
3.069,2.996,2.996,3.014,2.986,2.968,3.041,3.014,2.968,2.996,3.023,2.95,2.876,2.83,2.812,2.803,2.785,2.794,2.785,2.849,
2.895,2.858,2.904,2.858,2.913,2.867,2.922,2.867,2.904,2.867,2.895,2.83,2.785,2.748,2.785,2.757,2.766,2.794,2.757,2.803,
2.766,2.72,2.748,2.72,2.748,2.803,2.821,2.775,2.766,2.785,2.84,2.895,
3.12,3.068,3.068,3.037,3.057,3.026,3.068,3.026,3.005,3.026,2.995,2.984,2.964,2.974,2.943,2.964,2.953,2.943,2.974,2.943,
2.943,2.932,2.943,2.964,2.901,2.912,2.922,2.88,2.87,2.88,2.859,2.839,2.818,2.807,2.797,2.88,2.88,2.87,2.859,2.88,
2.87,2.859,2.839,2.849,2.807,2.797,2.776,2.786,2.776,2.797,2.786,2.776,2.755,2.766,2.786,2.755,2.786,2.766,2.755,2.776,
2.755,2.745,2.734,2.714,2.724,2.693,2.703,2.714,2.703,2.714,2.703,2.693,2.703,2.693,2.703,2.703,2.693,2.682,2.693,2.672,
2.661,2.682,2.661,2.651,2.63,2.641,2.63,2.661,2.641,2.62,2.641,2.609,2.62,2.641,2.599,2.609,2.588,2.599,2.62,2.609,
2.578,2.578,2.547,2.547,2.495,2.484,2.453,2.474,2.432,2.39,2.557,2.536,2.557,
2.884,2.89,2.93,2.879,2.89,2.873,2.844,2.816,2.804,2.839,2.816,2.793,2.804,2.804,2.793,2.821,2.793,2.758,2.764,2.758,
2.747,2.736,2.747,2.736,2.736,2.747,2.73,2.747,2.724,2.736,2.724,2.69,2.736,2.713,2.701,2.69,2.667,2.724,2.678,2.644,
2.678,2.667,2.69,2.678,2.667,2.69,2.678,2.655,2.678,2.678,2.667,2.655,2.678,2.655,2.655,2.667,2.632,
2.609,2.598,2.609,2.598,2.609,2.609,2.598,2.598,2.609,2.598,2.586,2.598,2.609,2.609,2.586,2.598,2.598,2.575,2.586,
2.529,2.529,2.541,2.529,2.541,2.541,2.541,2.552,2.529,2.552,2.529,2.552,2.529,2.541,2.541,2.529,2.541,2.518,
2.472,2.46,2.472,2.438,2.495,2.483,2.46,2.472,2.483,2.472,2.472,2.46,2.438,2.483,2.472,2.46,2.449,
2.403,2.38,2.392,2.415,2.352,2.357,2.346,2.415,2.346,2.289,2.254,2.277,2.334,2.185,
2.30,2.214,2.266,2.254,2.185,2.22,2.185,2.157,2.197,2.122,2.082,1.876,1.784,1.761,
2.80,2.95,3.10,2.88, 2.92,2.82,3.05,3.18, 3.00,2.79,2.90,3.12, 2.84,3.08,2.97,2.78, 2.93,2.80,3.03,2.87,
2.78,2.98,2.86,3.08, 2.90,3.05,2.77,2.83, 2.82,2.95,2.76,3.06, 3.00,2.87,2.78,2.92, 2.79,2.93,3.04,2.85,
2.88,2.75,2.97,3.02, 2.76,2.92,2.84,3.00, 2.95,2.80,2.73,2.88, 2.70,2.86,2.98,2.78, 2.83,2.72,2.94,3.02,
2.90,2.68,2.79,2.96, 2.74,2.86,2.66,2.99, 2.81,2.93,2.70,2.64, 2.67,2.78,2.90,2.96, 2.85,2.62,2.73,2.93,
2.70,2.60,2.82,2.90, 2.78,2.65,2.88,2.59, 2.58,2.72,2.84,2.66, 2.68,2.80,2.56,2.89, 2.75,2.62,2.54,2.84,
2.52,2.70,2.81,2.62, 2.64,2.77,2.50,2.86, 2.71,2.55,2.82,2.48, 2.50,2.66,2.77,2.58, 2.62,2.47,2.73,2.80,
2.69,2.56,2.45,2.76, 2.46,2.60,2.72,2.52, 2.58,2.67,2.43,2.78, 2.64,2.50,2.42,2.74, 2.45,2.56,2.70,2.62,
2.53,2.66,2.41,2.73, 2.60,2.44,2.69,2.50, 2.48,2.62,2.40,2.70,
2.86,3.02,2.94, 2.97,2.83,3.09, 2.88,3.05,2.81, 3.01,2.92,2.84, 2.83,2.97,3.06, 2.93,2.80,3.02,
2.86,3.04,2.95, 2.98,2.82,2.90, 2.88,3.01,2.79, 2.95,2.84,3.03, 2.81,2.92,2.99, 2.90,2.78,3.02,
2.96,2.84,2.75, 2.79,2.93,3.00, 2.88,2.74,2.97, 2.83,2.95,2.72, 2.90,2.78,2.98, 2.71,2.86,2.94,
2.82,2.68,2.91, 2.88,2.76,2.66, 2.73,2.85,2.64, 2.80,2.68,2.90, 2.62,2.76,2.86, 2.71,2.84,2.60,
2.66,2.79,2.56, 2.74,2.58,2.85
];

// ---------------- drawing ----------------
const FONT = 'DejaVu Sans, Verdana, sans-serif';
function rgba(rgb, a) { return 'rgba(' + rgb + ',' + a + ')'; }
function makeTrace(name, x, y, symbol, size, rgb, lw) {
  return {
    type: 'scatter', mode: 'markers', name: name, x: x, y: y, legendgroup: name,
    hoverinfo: 'skip', cliponaxis: true,
    marker: { symbol: symbol, size: size, color: rgba(rgb, 0.5), line: { color: rgba(rgb, 0.5), width: lw } }
  };
}
const traces = [
  makeTrace(seriesNames[0], bnsX, bnsY, 'triangle-down', 26, '0,128,0', 3),
  makeTrace(seriesNames[1], nsbhX, nsbhY, 'circle', 27, '255,0,255', 3),
  makeTrace(seriesNames[2], lightX, lightY, 'cross-thin', 22, '255,0,0', 5),
  makeTrace(seriesNames[3], mediumX, mediumY, 'circle', 13, '0,255,255', 3),
  makeTrace(seriesNames[4], heavyX, heavyY, 'triangle-up', 26, '0,0,255', 3)
];
const axisCommon = {
  ticks: 'outside', ticklen: 15, tickwidth: 3, tickcolor: 'black',
  showline: true, linecolor: 'black', linewidth: 3, mirror: true,
  showgrid: false, zeroline: false, tickfont: { family: FONT, size: 40, color: 'black' },
  tickmode: 'array', fixedrange: true
};
const layout = {
  width: 2400, height: 1800,
  margin: { l: 233, r: 78, t: 62, b: 208, pad: 0 },
  paper_bgcolor: 'white', plot_bgcolor: 'white',
  font: { family: FONT, size: 40, color: 'black' },
  showlegend: true,
  legend: {
    x: 0.0096, y: 0.0137, xanchor: 'left', yanchor: 'bottom',
    bgcolor: 'rgba(255,255,255,0.8)', bordercolor: '#cccccc', borderwidth: 3,
    font: { family: FONT, size: 41.5, color: 'black' },
    itemsizing: 'trace', tracegroupgap: 14, traceorder: 'normal', itemwidth: 122
  },
  xaxis: Object.assign({}, axisCommon, {
    range: [0, 1.6], tickvals: xTickValues, ticktext: xTickLabels, ticklabelstandoff: -9,
    title: { text: 'inclination angle <i>ι</i> [rad]', font: { family: FONT, size: 58, color: 'black' }, standoff: 27 }
  }),
  yaxis: Object.assign({}, axisCommon, {
    range: [1.5, 4.0], tickvals: yTickValues, ticktext: yTickLabels, ticklabelstandoff: 4,
    title: { text: 'log<sub>10</sub> SNR', font: { family: FONT, size: 58, color: 'black' }, standoff: 18 }
  })
};

// Plotly draws triangles flatter (height 0.75 of size) than the reference's
// equilateral-looking markers; stretch them vertically around their centre.
const TRI_STRETCH = 1.5;
const legendScale = [[1.625, 1.625 * TRI_STRETCH, -2], [1.69, 1.69, 0], [1.375, 1.375, 0], [1, 1, 0], [1.625, 1.625 * TRI_STRETCH, 2]];
function parseTranslate(t) {
  var m = (t || '').match(/translate\(\s*([-\d.eE]+)[\s,]+([-\d.eE]+)\s*\)/);
  return m ? [parseFloat(m[1]), parseFloat(m[2])] : [0, 0];
}
Plotly.newPlot('chart', traces, layout, { staticPlot: true, displayModeBar: false }).then(function (gd) {
  try {
    var trs = gd.querySelectorAll('.scatterlayer .trace');
    [[0, -3.25], [4, 3.25]].forEach(function (spec) {
      var tr = trs[spec[0]];
      if (!tr) return;
      tr.querySelectorAll('path.point').forEach(function (p) {
        var t = p.getAttribute('transform');
        if (!t) return;
        p.setAttribute('transform', t + ' scale(1,' + TRI_STRETCH + ') translate(0,' + spec[1] + ')');
        p.style.vectorEffect = 'non-scaling-stroke';
      });
    });
  } catch (e) {}
  try {
    var items = gd.querySelectorAll('.legend .traces');
    items.forEach(function (item, i) {
      var sc = legendScale[i] || [1, 1, 0];
      item.querySelectorAll('.legendpoints path.scatterpts').forEach(function (p) {
        var xy = parseTranslate(p.getAttribute('transform'));
        p.setAttribute('transform', 'translate(' + (xy[0] - 10) + ',' + xy[1] + ') scale(' + sc[0] + ',' + sc[1] + ') translate(0,' + sc[2] + ')');
        p.style.vectorEffect = 'non-scaling-stroke';
      });
    });
  } catch (e) {}
});
</script>
</body></html>
